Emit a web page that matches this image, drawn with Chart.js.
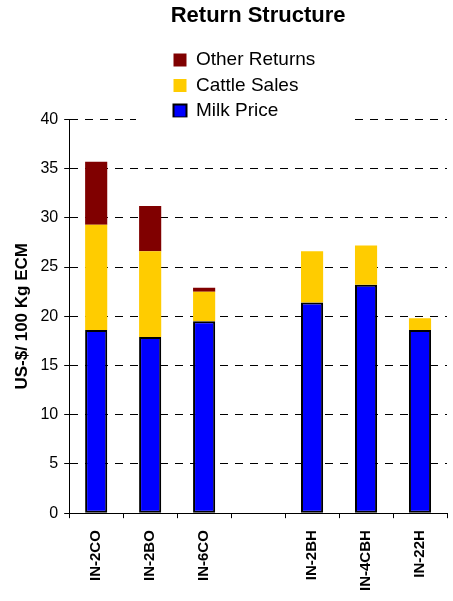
<!DOCTYPE html>
<html>
<head>
<meta charset="utf-8">
<title>Return Structure</title>
<script src="https://cdn.jsdelivr.net/npm/chart.js@4.4.0/dist/chart.umd.min.js"></script>
<style>
  html, body { margin: 0; padding: 0; background: #fff; }
  #chartBox { width: 453px; height: 601px; }
</style>
</head>
<body>
<div id="chartBox"><canvas id="returnCanvas"></canvas></div>
<script>
// farms (empty slot = gap between the two groups)
var farms = ["IN-2CO", "IN-2BO", "IN-6CO", "", "IN-2BH", "IN-4CBH", "IN-22H"];
// US-$ per 100 kg ECM
var milkPrice = [18.6, 17.9, 19.5, null, 21.4, 23.2, 18.6];
var cattleSales = [10.7, 8.7, 3.0, null, 5.2, 4.0, 1.2];
var otherReturns = [6.4, 4.6, 0.4, null, 0, 0, 0];
var yTicks = [0, 5, 10, 15, 20, 25, 30, 35, 40];

Chart.defaults.font.family = "'Liberation Sans', Arial, sans-serif";
Chart.defaults.color = "#000";

// legend sits above the plot, on a white patch over the top gridline
var legendSpot = {
    id: "legendSpot",
    afterLayout: function(chart) {
        var lg = chart.legend;
        lg.left = 167;
        lg.top = 44;
        lg.right = lg.left + 200;
        lg.bottom = lg.top + 90;
    },
    beforeDatasetsDraw: function(chart) {
        var ctx = chart.ctx;
        ctx.save();
        ctx.fillStyle = "#fff";
        ctx.fillRect(136, chart.chartArea.top - 2, 213, 4);
        ctx.restore();
    }
};

var ctx = document.getElementById("returnCanvas");
var barChart = new Chart(ctx, {
    type: "bar",
    data: {
        labels: farms,
        datasets: [{
            label: "Milk Price",
            data: milkPrice,
            backgroundColor: "#0000ff",
            borderColor: "#000",
            borderWidth: 2,
            borderSkipped: false
        }, {
            label: "Cattle Sales",
            data: cattleSales,
            backgroundColor: "#ffcc00",
            borderWidth: 0
        }, {
            label: "Other Returns",
            data: otherReturns,
            backgroundColor: "#800000",
            borderWidth: 0
        }]
    },
    options: {
        responsive: true,
        maintainAspectRatio: false,
        animation: false,
        layout: {
            // ticks.padding is counted twice by the x axis, hence the -2
            padding: { left: 8, right: 6, top: 0, bottom: -2 }
        },
        datasets: {
            bar: { barPercentage: 0.41, categoryPercentage: 1 }
        },
        plugins: {
            title: {
                display: true,
                text: "Return Structure",
                fullSize: false,
                font: { size: 22, weight: "bold" },
                padding: { top: 3, bottom: 90 }
            },
            legend: {
                position: "chartArea",
                align: "start",
                reverse: true,
                labels: {
                    boxWidth: 13,
                    boxHeight: 13,
                    padding: 6.5,
                    font: { size: 19 }
                }
            },
            tooltip: { enabled: false }
        },
        scales: {
            x: {
                stacked: true,
                ticks: {
                    font: { size: 15, weight: "bold" },
                    minRotation: 90,
                    maxRotation: 90,
                    autoSkip: false,
                    padding: 12
                },
                grid: { drawOnChartArea: false, tickLength: 5, color: "#000" },
                border: { color: "#000", width: 1 }
            },
            y: {
                stacked: true,
                min: 0,
                max: 40,
                afterBuildTicks: function(axis) {
                    axis.ticks = yTicks.map(function(v) { return { value: v }; });
                },
                ticks: { font: { size: 16 }, padding: 6 },
                grid: { color: "#000", tickLength: 5, tickColor: "#000" },
                border: { color: "#000", width: 1, dash: [8, 7] },
                title: {
                    display: true,
                    text: "US-$/ 100 Kg ECM",
                    font: { size: 17, weight: "bold" },
                    padding: { top: 4, bottom: 2 }
                }
            }
        }
    },
    plugins: [legendSpot]
});
</script>
</body>
</html>
